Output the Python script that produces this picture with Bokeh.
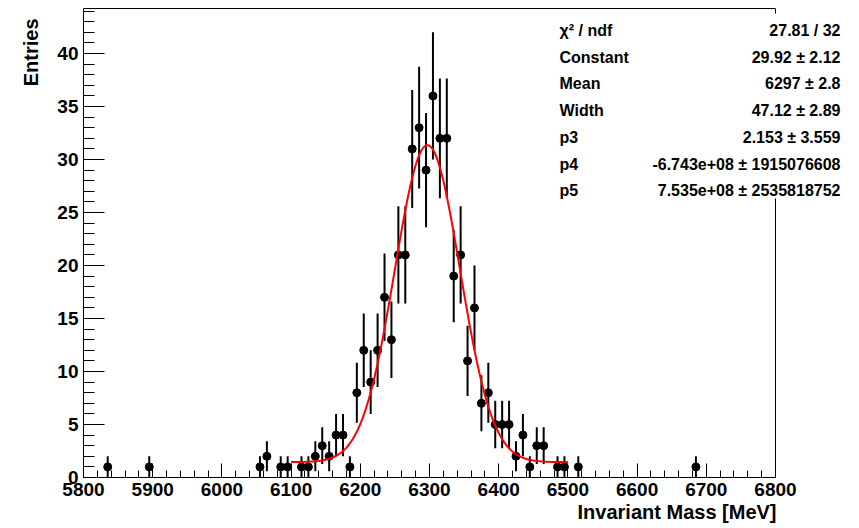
import numpy as np
from bokeh.plotting import figure
from bokeh.models import (Range1d, SingleIntervalTicker, FixedTicker, Label, LinearAxis,
                          Title, ColumnDataSource)
from bokeh.embed import file_html
from bokeh.resources import INLINE

# ---------------- data ----------------
bin_centers = [5835, 5895, 6055, 6065, 6085, 6095, 6115, 6125, 6135, 6145,
               6155, 6165, 6175, 6185, 6195, 6205, 6215, 6225, 6235, 6245,
               6255, 6265, 6275, 6285, 6295, 6305, 6315, 6325, 6335, 6345,
               6355, 6365, 6375, 6385, 6395, 6405, 6415, 6425, 6435, 6445,
               6455, 6465, 6485, 6495, 6515, 6685]
entries = [1, 1, 1, 2, 1, 1, 1, 1, 2, 3,
           2, 4, 4, 1, 8, 12, 9, 12, 17, 13,
           21, 21, 31, 33, 29, 36, 32, 32, 19, 21,
           11, 16, 7, 8, 5, 5, 5, 2, 4, 1,
           3, 3, 1, 1, 1, 1]

# fit parameters shown in the stats box (background level)
fit_constant = 29.92
fit_mean = 6297.0
fit_width = 47.12
fit_background = 1.45
fit_low, fit_high = 6100.0, 6500.0

stat_names = ["χ² / ndf", "Constant", "Mean", "Width", "p3", "p4", "p5"]
stat_values = ["27.81 / 32", "29.92 ± 2.12", "6297 ± 2.8", "47.12 ± 2.89",
               "2.153 ± 3.559", "-6.743e+08 ± 1915076608", "7.535e+08 ± 2535818752"]

x_title = "Invariant Mass [MeV]"
y_title = "Entries"

# ---------------- layout ----------------
W, H = 859, 528
L, T, B = 83, 8, 51
AX_RIGHT_PX = 775            # where the axis (6800) ends
FW, FH = W - L, H - T - B    # frame extends to the right canvas edge (room for the stats box)
XA0, XA1 = 5800.0, 6800.0    # axis range
YA0, YA1 = 0.0, 44.25
PPX = (AX_RIGHT_PX - L) / (XA1 - XA0)
X1 = XA0 + FW / PPX
FONT = "Liberation Sans"


def px_to_x(px):
    return XA0 + (px - L) / PPX


def py_to_y(py):
    return YA0 + (H - B - py) * (YA1 - YA0) / FH


p = figure(width=W, height=H, output_backend="svg", toolbar_location=None,
           x_range=Range1d(XA0, X1), y_range=Range1d(YA0, YA1),
           min_border_left=L, min_border_right=0, min_border_top=T, min_border_bottom=B)
p.background_fill_color = "white"
p.border_fill_color = "white"
p.outline_line_color = None
p.grid.visible = False

# axes
p.xaxis.ticker = SingleIntervalTicker(interval=100, num_minor_ticks=5)
p.yaxis.ticker = SingleIntervalTicker(interval=5, num_minor_ticks=5)
p.xaxis.bounds = (XA0, XA1)
p.yaxis.bounds = (YA0, YA1)
for ax in (p.xaxis, p.yaxis):
    ax.axis_line_color = "black"
    ax.major_tick_line_color = "black"
    ax.minor_tick_line_color = "black"
    ax.major_tick_out = 0
    ax.minor_tick_out = 0
    ax.major_label_text_font = FONT
    ax.major_label_text_font_style = "bold"
    ax.major_label_text_font_size = "19px"
    ax.major_label_text_color = "black"
    ax.major_label_standoff = 5
p.xaxis.major_tick_in = 14
p.xaxis.minor_tick_in = 7
p.yaxis.major_tick_in = 21
p.yaxis.minor_tick_in = 11

# top frame line (an axis without ticks)
top_axis = LinearAxis(ticker=FixedTicker(ticks=[]), bounds=(XA0, XA1),
                      major_tick_in=0, major_tick_out=0, minor_tick_in=0, minor_tick_out=0,
                      major_label_text_font_size="0px", axis_line_color="black")
p.add_layout(top_axis, "above")

# data: error bars and markers
y = np.array(entries, dtype=float)
err = np.sqrt(y)
src = ColumnDataSource(dict(x=bin_centers, y=y, lo=y - err, hi=y + err))
p.segment(x0="x", y0="lo", x1="x", y1="hi", source=src, line_color="black", line_width=2)
p.scatter(x="x", y="y", source=src, size=8, fill_color="black", line_color="black")

# fit curve (gaussian + flat background from the fit parameters)
fx = np.linspace(fit_low, fit_high, 101)
fy = fit_constant * np.exp(-0.5 * ((fx - fit_mean) / fit_width) ** 2) + fit_background
p.line(fx, fy, line_color="red", line_width=2)

# right frame border, hidden behind the stats box in its upper part
p.segment(x0=[XA1, XA1], y0=[YA0, py_to_y(13)], x1=[XA1, XA1], y1=[py_to_y(198), YA1],
          line_color="black", line_width=1)

# stats box texts
row0, drow = 30.0, 26.7
for i, (nm, vl) in enumerate(zip(stat_names, stat_values)):
    yy = py_to_y(row0 + i * drow)
    p.add_layout(Label(x=px_to_x(559), y=yy, text=nm, text_font=FONT,
                       text_font_style="bold", text_font_size="16px",
                       text_align="left", text_baseline="middle", text_color="black"))
    p.add_layout(Label(x=px_to_x(840), y=yy, text=vl, text_font=FONT,
                       text_font_style="bold", text_font_size="16px",
                       text_align="right", text_baseline="middle", text_color="black"))

# axis titles (ROOT style: aligned to the axis end)
p.add_layout(Title(text=x_title, align="right", offset=(W - AX_RIGHT_PX - 1), standoff=0,
                   text_font=FONT, text_font_style="bold", text_font_size="20px",
                   text_color="black"), "below")
p.add_layout(Title(text=y_title, align="right", offset=10, standoff=26,
                   text_font=FONT, text_font_style="bold", text_font_size="20px",
                   text_color="black"), "left")

open("out.html", "w").write(file_html(p, INLINE))
